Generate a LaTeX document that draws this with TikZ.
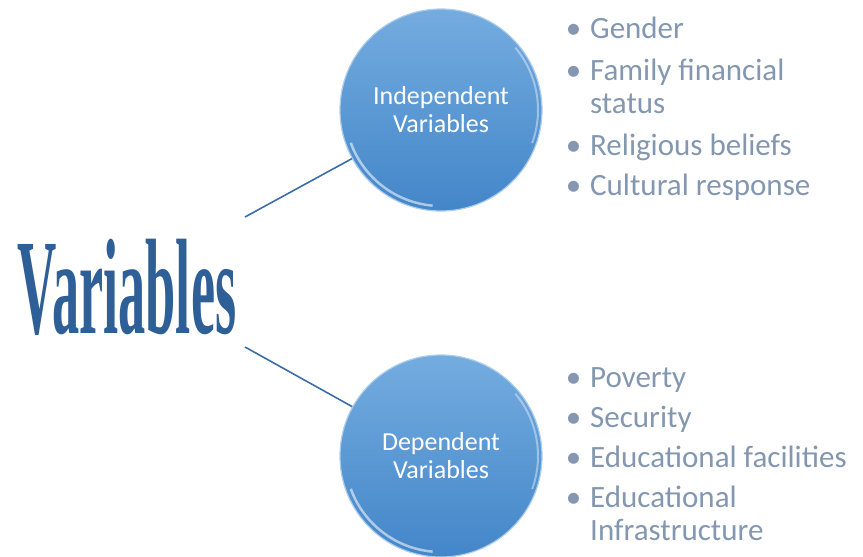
\documentclass[tikz,border=0pt]{standalone}
\usepackage{fontspec}
\setmainfont{Carlito}
\newfontfamily\titlefont{Liberation Serif}
\usepackage{tikz}

\definecolor{titleblue}{HTML}{2F5F97}
\definecolor{linkblue}{HTML}{3A6EA8}
\definecolor{itemgray}{HTML}{8497B0}
\definecolor{ballhi}{HTML}{74ACDF}
\definecolor{balllo}{HTML}{4386C9}

\newcommand{\bul}{\llap{•\hspace{9pt}}}

\tikzset{
  ball/.style={circle, minimum size=202pt, inner sep=0pt, top color=ballhi,
    bottom color=balllo, draw=ballhi!60!white, line width=1.2pt,
    text=white, align=center, font=\fontsize{26}{28}\selectfont},
  item/.style={anchor=base west, inner sep=0pt, align=left, text=itemgray,
    font=\fontsize{31}{33}\selectfont},
  link/.style={draw=linkblue, line width=1.6pt}
}

\begin{document}
\begin{tikzpicture}[x=1pt, y=-1pt]
    \useasboundingbox (0,0) rectangle (863,557);

    \node[anchor=base, inner sep=0pt, text=titleblue] (var) at (127,333)
      {\scalebox{0.40}[1]{\titlefont\bfseries\fontsize{136}{136}\selectfont Variables}};
    \coordinate (vt) at (245,217);
    \coordinate (vb) at (245,347);

    \node[ball] (indep) at (441,110) {Independent\\Variables};
    \node[ball] (dep) at (441,456) {Dependent\\Variables};

    \draw[link] (vt) -- (indep);
    \draw[link] (vb) -- (dep);

    % glossy rims
    \draw[white, opacity=0.55, line width=2.5pt]
      ([shift={(200:96pt)}]indep.center) arc (200:265:96pt);
    \draw[white, opacity=0.55, line width=2.5pt]
      ([shift={(200:96pt)}]dep.center) arc (200:265:96pt);
    \draw[white, opacity=0.4, line width=2pt]
      ([shift={(-20:97pt)}]indep.center) arc (-20:40:97pt);
    \draw[white, opacity=0.4, line width=2pt]
      ([shift={(-20:97pt)}]dep.center) arc (-20:40:97pt);

    % independent list (two-line items sit on their last line)
    \node[item] (i1) at (590,38) {\bul Gender};
    \node[item] (i2) at (590,113) {\bul Family financial\\status};
    \node[item] (i3) at (590,155) {\bul Religious beliefs};
    \node[item] (i4) at (590,195) {\bul Cultural response};

    % dependent list
    \node[item] (d1) at (590,387) {\bul Poverty};
    \node[item] (d2) at (590,427) {\bul Security};
    \node[item] (d3) at (590,467) {\bul Educational facilities};
    \node[item] (d4) at (590,540) {\bul Educational\\Infrastructure};
  \end{tikzpicture}
\end{document}
